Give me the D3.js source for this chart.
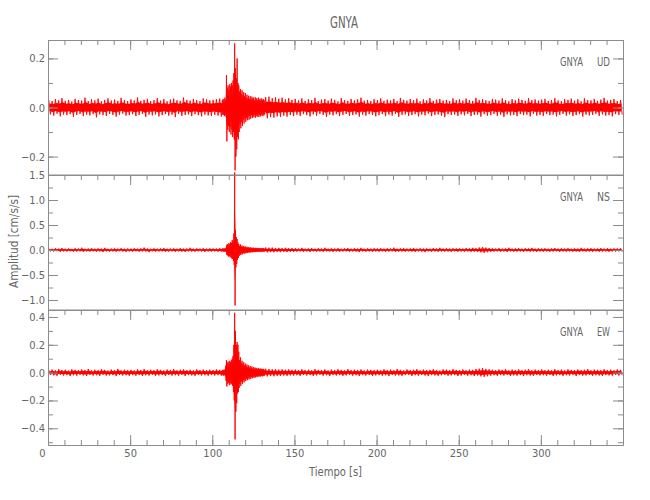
<!DOCTYPE html>
<html><head><meta charset="utf-8">
<script src="https://cdn.jsdelivr.net/npm/d3@7"></script>
<style>
body{margin:0;background:#fff}
text{font-family:"Liberation Sans Narrow","DejaVu Sans Condensed","Liberation Sans",sans-serif;fill:#666}
</style>
</head><body><svg id="c" width="650" height="500"></svg>
<script>
// ---------------- data ----------------
const chartTitle = "GNYA";
const station = "GNYA";
const components = ["UD", "NS", "EW"];
const xLabel = "Tiempo  [s]";
const yLabel = "Amplitud  [cm/s/s]";
const xDomain = [0, 350];
const xMajorTicks = [0, 50, 100, 150, 200, 250, 300];
const xMinorTicks = [0,10,20,30,40,50,60,70,80,90,100,110,120,130,140,150,160,170,180,190,200,210,220,230,240,250,260,270,280,290,300,310,320,330,340,350];

const udDomain = [-0.275, 0.275];
const udMajorTicks = [-0.2, 0.0, 0.2];
const udMinorTicks = [-0.2, -0.1, 0.0, 0.1, 0.2];
const nsDomain = [-1.2, 1.5];
const nsMajorTicks = [-1.0, -0.5, 0.0, 0.5, 1.0, 1.5];
const nsMinorTicks = [-1.0, -0.75, -0.5, -0.25, 0.0, 0.25, 0.5, 0.75, 1.0, 1.25, 1.5];
const ewDomain = [-0.52, 0.45];
const ewMajorTicks = [-0.4, -0.2, 0.0, 0.2, 0.4];
const ewMinorTicks = [-0.5, -0.4, -0.3, -0.2, -0.1, 0.0, 0.1, 0.2, 0.3, 0.4];

// peak values (max / min) in consecutive 2 s windows from 0 s to 350 s
const bgStep = 2;
const udBgHi = [.030,.026,.034,.029,.038,.027,.031,.024,.035,.030,.028,.040,.026,.033,.029,.036,.025,.031,.037,.028,.032,.027,.039,.030,.026,
.033,.029,.041,.027,.031,.035,.026,.030,.038,.028,.034,.025,.032,.036,.029,.027,.040,.031,.028,.035,.030,.026,.037,.033,.029,
.031,.034,.036,.050,.130,.110,.260,.200,.090,.070,.060,.055,.050,.048,.045,.045,.042,.044,.038,.041,.036,.040,.033,.038,.031,
.035,.029,.037,.027,.033,.030,.039,.026,.032,.034,.028,.036,.031,.025,.038,.030,.027,.035,.029,.033,.040,.028,.031,.026,.034,
.030,.037,.027,.032,.029,.035,.026,.039,.031,.028,.034,.030,.036,.025,.033,.029,.038,.027,.032,.035,.028,.031,.026,.037,.030,
.033,.028,.036,.030,.027,.039,.031,.034,.029,.026,.035,.032,.028,.037,.030,.025,.034,.029,.036,.031,.027,.038,.030,.033,.028,
.032,.035,.027,.030,.038,.029,.026,.034,.031,.036,.028,.033,.025,.037,.030,.029,.035,.027,.032,.039,.028,.031,.034,.026,.030];
const udBgLo = [-.028,-.033,-.025,-.036,-.029,-.031,-.027,-.038,-.030,-.026,-.035,-.029,-.032,-.027,-.040,-.028,-.031,-.034,-.026,-.030,-.037,-.029,-.025,-.033,-.031,
-.027,-.035,-.030,-.026,-.038,-.029,-.032,-.028,-.036,-.031,-.027,-.033,-.029,-.039,-.026,-.034,-.030,-.028,-.035,-.027,-.031,-.036,-.029,-.032,-.034,
-.030,-.033,-.037,-.045,-.138,-.120,-.256,-.170,-.100,-.080,-.065,-.055,-.050,-.048,-.045,-.042,-.044,-.039,-.041,-.036,-.038,-.033,-.037,-.031,-.035,
-.029,-.034,-.027,-.031,-.036,-.028,-.033,-.026,-.030,-.038,-.029,-.032,-.027,-.035,-.030,-.026,-.034,-.031,-.028,-.037,-.029,-.033,-.027,-.030,-.036,
-.031,-.027,-.035,-.029,-.033,-.026,-.038,-.030,-.028,-.034,-.031,-.027,-.036,-.029,-.032,-.025,-.035,-.030,-.028,-.033,-.039,-.027,-.031,-.029,-.034,
-.028,-.032,-.026,-.035,-.030,-.029,-.037,-.027,-.033,-.031,-.026,-.034,-.029,-.038,-.028,-.032,-.030,-.035,-.027,-.031,-.029,-.036,-.026,-.033,-.030,
-.034,-.027,-.031,-.029,-.036,-.030,-.026,-.033,-.028,-.035,-.031,-.027,-.037,-.029,-.032,-.030,-.026,-.034,-.028,-.033,-.031,-.036,-.027,-.030,-.029];

const nsBgHi = [.030,.025,.035,.028,.040,.027,.032,.024,.036,.030,.045,.026,.031,.038,.027,.033,.029,.042,.025,.030,.034,.028,.037,.026,.031,
.029,.036,.027,.033,.048,.030,.025,.035,.028,.032,.040,.027,.030,.034,.026,.038,.029,.031,.044,.027,.033,.030,.036,.028,.035,
.032,.030,.038,.150,.400,1.55,.330,.220,.150,.100,.080,.070,.060,.055,.050,.045,.050,.045,.048,.040,.042,.038,.044,.036,.040,
.035,.030,.042,.028,.033,.038,.027,.036,.031,.045,.029,.034,.030,.037,.026,.032,.039,.028,.035,.030,.043,.027,.033,.029,.036,
.031,.038,.028,.034,.030,.046,.027,.033,.036,.029,.032,.040,.028,.035,.030,.033,.027,.038,.031,.044,.029,.034,.030,.036,.032,
.035,.030,.039,.033,.042,.037,.050,.058,.048,.040,.035,.031,.038,.029,.034,.045,.030,.033,.037,.028,.036,.032,.041,.029,.034,
.030,.036,.028,.033,.040,.029,.035,.031,.038,.027,.034,.030,.043,.028,.033,.036,.029,.032,.039,.030,.035,.028,.033,.031,.036];
const nsBgLo = [-.028,-.033,-.026,-.037,-.029,-.031,-.025,-.035,-.030,-.027,-.039,-.028,-.032,-.026,-.034,-.030,-.041,-.027,-.033,-.029,-.036,-.025,-.031,-.038,-.028,
-.033,-.027,-.035,-.029,-.031,-.044,-.026,-.034,-.030,-.028,-.037,-.032,-.027,-.036,-.029,-.033,-.040,-.028,-.031,-.035,-.027,-.030,-.038,-.029,-.032,
-.030,-.035,-.033,-.160,-.350,-1.11,-.300,-.200,-.170,-.110,-.080,-.065,-.060,-.055,-.050,-.045,-.048,-.042,-.045,-.040,-.043,-.037,-.041,-.036,-.039,
-.033,-.029,-.037,-.031,-.040,-.028,-.034,-.030,-.036,-.027,-.032,-.038,-.029,-.035,-.031,-.027,-.036,-.030,-.033,-.042,-.028,-.034,-.030,-.037,-.029,
-.034,-.029,-.036,-.031,-.027,-.039,-.032,-.030,-.035,-.028,-.033,-.037,-.029,-.031,-.042,-.028,-.034,-.030,-.036,-.029,-.033,-.031,-.038,-.027,-.035,
-.031,-.036,-.030,-.038,-.034,-.040,-.047,-.055,-.045,-.038,-.033,-.029,-.036,-.031,-.040,-.028,-.035,-.032,-.030,-.037,-.029,-.034,-.031,-.038,-.030,
-.033,-.029,-.036,-.031,-.027,-.038,-.030,-.034,-.029,-.035,-.032,-.040,-.028,-.033,-.030,-.037,-.029,-.035,-.031,-.028,-.036,-.030,-.034,-.029,-.033];

const ewBgHi = [.018,.022,.016,.025,.019,.021,.015,.024,.020,.017,.023,.019,.026,.016,.021,.018,.024,.020,.015,.022,.019,.027,.017,.021,.018,
.020,.016,.023,.019,.025,.017,.021,.018,.024,.020,.016,.022,.019,.026,.017,.021,.023,.018,.020,.016,.024,.019,.022,.017,.021,
.019,.023,.020,.090,.120,.430,.220,.150,.100,.070,.050,.045,.040,.035,.030,.028,.028,.026,.024,.025,.022,.024,.021,.023,.020,
.022,.018,.024,.019,.021,.017,.025,.020,.018,.023,.016,.022,.019,.024,.020,.017,.026,.018,.021,.019,.023,.016,.022,.020,.018,
.021,.017,.024,.019,.022,.018,.026,.020,.016,.023,.019,.021,.025,.017,.022,.018,.020,.024,.019,.016,.023,.021,.018,.025,.020,
.019,.023,.017,.022,.020,.026,.028,.032,.027,.024,.021,.018,.023,.020,.025,.017,.022,.019,.024,.018,.021,.026,.017,.022,.019,
.023,.018,.021,.017,.025,.019,.022,.016,.024,.020,.018,.023,.019,.021,.026,.017,.022,.020,.018,.024,.019,.021,.017,.023,.020];
const ewBgLo = [-.017,-.020,-.023,-.016,-.021,-.018,-.025,-.019,-.022,-.016,-.020,-.024,-.017,-.021,-.019,-.023,-.016,-.022,-.020,-.018,-.025,-.017,-.021,-.019,-.023,
-.018,-.022,-.017,-.024,-.019,-.021,-.016,-.023,-.020,-.018,-.025,-.017,-.021,-.019,-.022,-.016,-.024,-.018,-.020,-.023,-.017,-.021,-.019,-.022,-.018,
-.021,-.018,-.022,-.100,-.140,-.480,-.220,-.140,-.110,-.070,-.050,-.045,-.038,-.034,-.030,-.028,-.027,-.025,-.026,-.023,-.024,-.021,-.023,-.020,-.022,
-.019,-.023,-.017,-.021,-.018,-.024,-.020,-.016,-.022,-.019,-.025,-.017,-.021,-.018,-.023,-.020,-.016,-.022,-.019,-.024,-.018,-.021,-.017,-.023,-.020,
-.018,-.022,-.019,-.025,-.017,-.021,-.020,-.023,-.018,-.016,-.024,-.019,-.022,-.017,-.021,-.025,-.018,-.020,-.023,-.019,-.017,-.022,-.020,-.018,-.024,
-.021,-.017,-.022,-.019,-.024,-.020,-.027,-.030,-.026,-.022,-.019,-.023,-.018,-.021,-.017,-.024,-.020,-.022,-.018,-.025,-.019,-.021,-.023,-.017,-.020,
-.019,-.022,-.017,-.024,-.020,-.018,-.023,-.019,-.021,-.016,-.025,-.018,-.022,-.020,-.017,-.023,-.019,-.021,-.024,-.018,-.020,-.022,-.017,-.021,-.019];

// finer peak values in 0.5 s windows over the event, 106 s to 132 s
const detailStart = 106;
const detailStep = 0.5;
const udEvHi = [.030,.035,.028,.040,.033,.132,.080,.090,.070,.095,.085,.100,.090,.110,.140,.261,.160,.120,.200,.100,.090,.065,.075,.055,.070,.050,.062,.045,.058,.040,.052,.038,.048,.035,.046,.032,.044,.036,.040,.030,.042,.033,.038,.029,.040,.031,.036,.028,.037,.030,.034,.029];
const udEvLo = [-.030,-.028,-.035,-.030,-.038,-.138,-.090,-.075,-.100,-.080,-.110,-.090,-.120,-.100,-.130,-.256,-.200,-.170,-.120,-.130,-.100,-.070,-.085,-.060,-.075,-.050,-.065,-.045,-.058,-.042,-.052,-.036,-.050,-.034,-.046,-.031,-.043,-.035,-.040,-.030,-.041,-.032,-.038,-.029,-.039,-.030,-.036,-.028,-.035,-.029,-.033,-.028];
const nsEvHi = [.030,.028,.032,.030,.035,.090,.120,.100,.140,.120,.160,.140,.200,.180,.330,1.550,.400,.260,.220,.150,.120,.080,.110,.070,.090,.060,.080,.055,.070,.050,.065,.045,.058,.040,.055,.038,.050,.036,.046,.034,.044,.032,.042,.033,.040,.031,.038,.030,.037,.032,.036,.030];
const nsEvLo = [-.028,-.032,-.030,-.034,-.030,-.100,-.110,-.130,-.120,-.150,-.140,-.170,-.180,-.220,-.300,-1.110,-.350,-.280,-.200,-.160,-.120,-.090,-.100,-.070,-.085,-.060,-.075,-.052,-.068,-.048,-.060,-.044,-.055,-.040,-.050,-.037,-.047,-.035,-.044,-.033,-.042,-.032,-.040,-.031,-.038,-.030,-.037,-.031,-.036,-.029,-.034,-.030];
const ewEvHi = [.020,.018,.022,.020,.050,.090,.070,.080,.065,.085,.075,.090,.100,.120,.200,.430,.300,.200,.220,.200,.150,.090,.110,.070,.085,.060,.075,.050,.065,.045,.058,.040,.052,.036,.048,.033,.044,.030,.040,.028,.036,.027,.034,.025,.032,.024,.030,.023,.028,.022,.027,.021];
const ewEvLo = [-.019,-.021,-.018,-.022,-.060,-.100,-.080,-.070,-.090,-.075,-.085,-.080,-.095,-.140,-.200,-.480,-.280,-.220,-.150,-.140,-.110,-.080,-.095,-.065,-.080,-.055,-.070,-.048,-.060,-.042,-.054,-.038,-.049,-.035,-.045,-.032,-.041,-.029,-.038,-.027,-.035,-.026,-.032,-.024,-.030,-.023,-.028,-.022,-.027,-.021,-.025,-.020];

// ---------------- drawing ----------------
const svg = d3.select("#c");
const left = 48, right = 623;
const x = d3.scaleLinear().domain(xDomain).range([left, right]);
const lineColor = "#8c8c8c";
const FONT = '"Liberation Sans Narrow","DejaVu Sans Condensed","Liberation Sans",sans-serif';

const panels = [
  {comp: components[0], domain: udDomain, major: udMajorTicks, minor: udMinorTicks, top: 40, bottom: 175, bgHi: udBgHi, bgLo: udBgLo, evHi: udEvHi, evLo: udEvLo},
  {comp: components[1], domain: nsDomain, major: nsMajorTicks, minor: nsMinorTicks, top: 175, bottom: 310, bgHi: nsBgHi, bgLo: nsBgLo, evHi: nsEvHi, evLo: nsEvLo},
  {comp: components[2], domain: ewDomain, major: ewMajorTicks, minor: ewMinorTicks, top: 310, bottom: 445, bgHi: ewBgHi, bgLo: ewBgLo, evHi: ewEvHi, evLo: ewEvLo}
];

function buildWindows(p) {
  const detailEnd = detailStart + p.evHi.length * detailStep;
  const w = [];
  p.bgHi.forEach((h, i) => {
    const t0 = i * bgStep;
    if (t0 >= detailStart && t0 < detailEnd) return;
    w.push({t0, dt: bgStep, hi: h, lo: p.bgLo[i]});
  });
  p.evHi.forEach((h, j) => w.push({t0: detailStart + j * detailStep, dt: detailStep, hi: h, lo: p.evLo[j]}));
  return w.sort((a, b) => a.t0 - b.t0);
}

const fmt = d3.format(".1f");

panels.forEach((p, idx) => {
  const y = d3.scaleLinear().domain(p.domain).range([p.bottom, p.top]);
  const wins = buildWindows(p);

  // core of the trace (dense band)
  const area = d3.area()
    .x(d => x(d.t0 + d.dt / 2))
    .y0(d => y(d.lo * 0.55))
    .y1(d => y(d.hi * 0.55));
  svg.append("path").datum(wins).attr("d", area).attr("fill", "#ff0000").attr("stroke", "none");

  // oscillating trace through the window peaks
  const pts = [];
  wins.forEach(d => { pts.push([d.t0 + d.dt * 0.25, d.hi]); pts.push([d.t0 + d.dt * 0.75, d.lo]); });
  const line = d3.line().x(d => x(d[0])).y(d => y(d[1]));
  svg.append("path").datum(pts).attr("d", line).attr("fill", "none")
    .attr("stroke", "#ff0000").attr("stroke-width", 0.9).attr("stroke-linejoin", "miter");

  // axes
  const g = svg.append("g");
  const styleAxis = sel => {
    sel.selectAll("path.domain").attr("stroke", lineColor);
    sel.selectAll(".tick line").attr("stroke", lineColor);
    sel.selectAll("text").attr("fill", "#666").attr("font-size", 11).attr("font-family", FONT);
  };
  g.append("g").attr("transform", `translate(${left},0)`)
    .call(d3.axisLeft(y).tickValues(p.minor).tickSize(-5).tickSizeOuter(0).tickFormat("")).call(styleAxis);
  g.append("g").attr("transform", `translate(${left},0)`)
    .call(d3.axisLeft(y).tickValues(p.major).tickSize(-10).tickSizeOuter(0).tickPadding(3).tickFormat(fmt)).call(styleAxis);
  g.append("g").attr("transform", `translate(${right},0)`)
    .call(d3.axisRight(y).tickValues(p.minor).tickSize(-5).tickSizeOuter(0).tickFormat("")).call(styleAxis);
  g.append("g").attr("transform", `translate(${right},0)`)
    .call(d3.axisRight(y).tickValues(p.major).tickSize(-10).tickSizeOuter(0).tickFormat("")).call(styleAxis);
  g.append("g").attr("transform", `translate(0,${p.top})`)
    .call(d3.axisTop(x).tickValues(xMinorTicks).tickSize(-5).tickSizeOuter(0).tickFormat("")).call(styleAxis);
  g.append("g").attr("transform", `translate(0,${p.top})`)
    .call(d3.axisTop(x).tickValues(xMajorTicks).tickSize(-10).tickSizeOuter(0).tickFormat("")).call(styleAxis);
  if (idx === panels.length - 1) {
    g.append("g").attr("transform", `translate(0,${p.bottom})`)
      .call(d3.axisBottom(x).tickValues(xMinorTicks).tickSize(-5).tickSizeOuter(0).tickFormat("")).call(styleAxis);
    const bx = g.append("g").attr("transform", `translate(0,${p.bottom})`)
      .call(d3.axisBottom(x).tickValues(xMajorTicks).tickSize(-10).tickSizeOuter(0).tickPadding(4).tickFormat(d3.format("d"))).call(styleAxis);
    bx.selectAll(".tick text").filter(d => d === 0).attr("x", -6);
  } else {
    g.append("line").attr("x1", left).attr("x2", right).attr("y1", p.bottom).attr("y2", p.bottom).attr("stroke", lineColor);
  }

  // station / component label
  svg.append("text").attr("x", 560).attr("y", p.top + 26).attr("font-size", 13)
    .attr("textLength", 23).attr("lengthAdjust", "spacingAndGlyphs").text(station);
  svg.append("text").attr("x", 597).attr("y", p.top + 26).attr("font-size", 13)
    .attr("textLength", 13).attr("lengthAdjust", "spacingAndGlyphs").text(p.comp);
});

svg.append("text").attr("x", 330).attr("y", 28).attr("font-size", 16).attr("fill", "#555")
  .attr("textLength", 28).attr("lengthAdjust", "spacingAndGlyphs").text(chartTitle);
svg.append("text").attr("x", 309).attr("y", 476).attr("font-size", 13)
  .attr("textLength", 53).attr("lengthAdjust", "spacingAndGlyphs").text(xLabel);
svg.append("text").attr("transform", "translate(18,288) rotate(-90)").attr("font-size", 13)
  .attr("textLength", 93).attr("lengthAdjust", "spacingAndGlyphs").text(yLabel);
</script>
</body></html>
